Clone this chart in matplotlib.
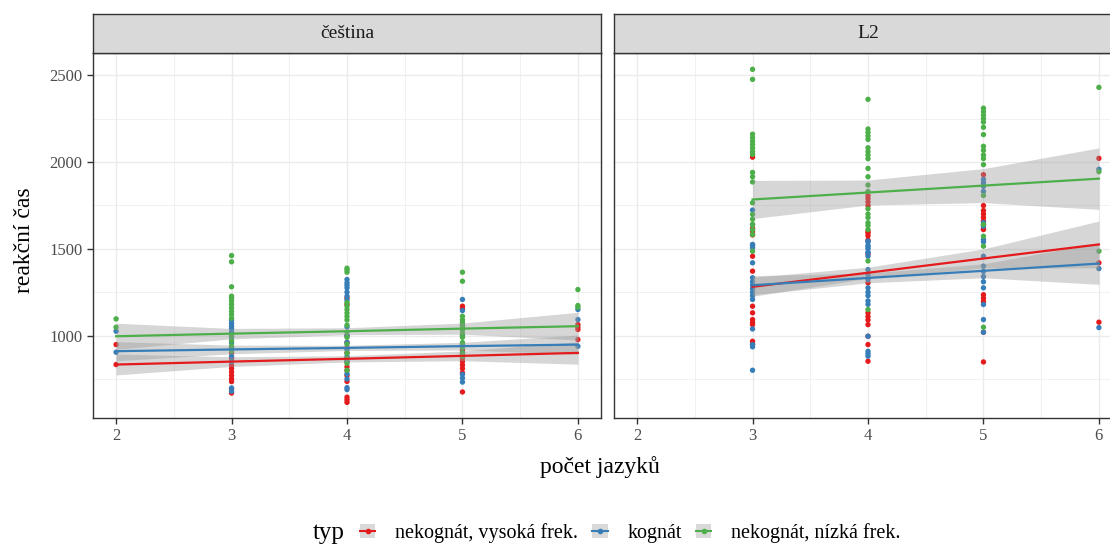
import matplotlib
matplotlib.use("Agg")
import matplotlib.pyplot as plt
import numpy as np
from matplotlib.lines import Line2D
from matplotlib.patches import Patch
from matplotlib.legend_handler import HandlerTuple
from matplotlib.ticker import MultipleLocator

plt.rcParams['font.family'] = ['Liberation Serif', 'DejaVu Serif']

# reaction times per number of languages (x = 2..6), one list per x value
x_levels = [2, 3, 4, 5, 6]

cz_red = [
    [948, 833],
    [900, 870, 830, 810, 790, 770, 750, 735, 692, 669],
    [1217, 1180, 1000, 960, 930, 900, 870, 850, 820, 800, 770, 736, 645, 630, 615],
    [1169, 1155, 917, 890, 870, 850, 830, 810, 785, 675],
    [1063, 1048, 1035, 977],
]
cz_blue = [
    [1025, 904],
    [1088, 1070, 1054, 1040, 1020, 990, 960, 930, 880, 850, 698, 679],
    [1323, 1304, 1290, 1275, 1250, 1227, 1205, 1050, 1000, 960, 920, 880, 850, 780, 750, 700, 689],
    [1208, 1144, 1060, 1000, 950, 900, 776, 755, 732],
    [1150, 1092, 938],
]
cz_green = [
    [1096, 1048],
    [1461, 1425, 1281, 1227, 1215, 1200, 1180, 1160, 1140, 1121, 1100, 1000, 970, 940, 910],
    [1388, 1378, 1365, 1190, 1170, 1150, 1130, 1110, 1090, 1060, 1020, 990, 950, 900, 870, 840, 800],
    [1365, 1313, 1111, 1090, 1073, 1050, 1030, 1010, 990, 960, 930, 900, 880],
    [1265, 1173, 1163],
]

l2_red = [
    [],
    [2028, 1617, 1600, 1580, 1457, 1371, 1169, 1131, 1092, 1075, 1063, 967, 950],
    [1807, 1790, 1770, 1749, 1600, 1590, 1575, 1550, 1470, 1304, 1131, 1110, 1090, 1063, 996, 948, 852],
    [1927, 1749, 1720, 1700, 1680, 1660, 1640, 1614, 1611, 1235, 1215, 1196, 1019, 848],
    [2021, 1419, 1077],
]
l2_blue = [
    [],
    [1723, 1640, 1525, 1519, 1506, 1419, 1333, 1310, 1290, 1270, 1250, 1230, 1208, 1038, 948, 935, 800],
    [1544, 1540, 1520, 1510, 1500, 1480, 1477, 1457, 1380, 1350, 1323, 1275, 1250, 1230, 1200, 1180, 996, 909, 895, 881],
    [1900, 1880, 1860, 1830, 1650, 1630, 1553, 1540, 1457, 1400, 1370, 1340, 1310, 1275, 1179, 1092, 1019],
    [1958, 1386, 1046],
]
l2_green = [
    [],
    [2534, 2476, 2160, 2140, 2120, 2100, 2080, 2060, 2044, 1940, 1915, 1885, 1765, 1698, 1670, 1640, 1610, 1582, 1486],
    [2361, 2190, 2170, 2150, 2130, 2082, 2060, 2040, 2019, 1963, 1915, 1867, 1830, 1730, 1700, 1680, 1650, 1634, 1611, 1430, 1150],
    [2310, 2290, 2270, 2250, 2230, 2200, 2158, 2090, 2067, 2040, 2020, 1985, 1807, 1640, 1572, 1515, 1048],
    [2430, 1944, 1486],
]

# linear fits (value at each x) and confidence half-widths
cz_fit_x = [2, 3, 4, 5, 6]
cz_fit = {
    'red': [833, 850, 866, 883, 900],
    'blue': [910, 920, 929, 939, 948],
    'green': [996, 1011, 1025, 1040, 1054],
}
cz_ci = {
    'red': [60, 28, 18, 28, 65],
    'blue': [55, 25, 15, 22, 55],
    'green': [75, 30, 20, 32, 80],
}
l2_fit_x = [3, 4, 5, 6]
l2_fit = {
    'red': [1281, 1362, 1444, 1525],
    'blue': [1290, 1332, 1373, 1415],
    'green': [1784, 1824, 1864, 1904],
}
l2_ci = {
    'red': [55, 32, 55, 135],
    'blue': [55, 28, 40, 120],
    'green': [110, 72, 98, 177],
}

groups = ['red', 'blue', 'green']
colors = {'red': '#E41A1C', 'blue': '#377EB8', 'green': '#4DAF4A'}
labels = ['nekognát, vysoká frek.', 'kognát', 'nekognát, nízká frek.']

W, H = 1110, 544
fig = plt.figure(figsize=(W / 100, H / 100), dpi=100)

panel_w = 508
panels = [
    ('čeština', 93, [cz_red, cz_blue, cz_green], cz_fit_x, cz_fit, cz_ci),
    ('L2', 614, [l2_red, l2_blue, l2_green], l2_fit_x, l2_fit, l2_ci),
]

for i, (title, left, pts, fx, fit, ci) in enumerate(panels):
    ax = fig.add_axes([left / W, 1 - 418 / H, panel_w / W, 365 / H])
    ax.set_xlim(1.8, 6.2)
    ax.set_ylim(525, 2628)
    ax.xaxis.set_major_locator(MultipleLocator(1))
    ax.xaxis.set_minor_locator(MultipleLocator(0.5))
    ax.yaxis.set_major_locator(MultipleLocator(500))
    ax.yaxis.set_minor_locator(MultipleLocator(250))
    ax.set_yticks([1000, 1500, 2000, 2500])
    ax.grid(which='major', color='#EBEBEB', lw=1.0, zorder=0)
    ax.grid(which='minor', color='#EBEBEB', lw=0.5, zorder=0)
    ax.set_axisbelow(True)
    for s in ax.spines.values():
        s.set_color('#333333')
        s.set_linewidth(1.0)
    ax.tick_params(which='minor', length=0)
    ax.tick_params(which='major', length=4, width=1.0, color='#333333',
                   labelcolor='#4D4D4D', labelsize=12)
    if i > 0:
        ax.tick_params(axis='y', left=False, labelleft=False)

    for g, series in zip(groups, pts):
        xs, ys = [], []
        for xv, vals in zip(x_levels, series):
            xs += [xv] * len(vals)
            ys += vals
        ax.scatter(xs, ys, s=15, color=colors[g], edgecolors='none', zorder=3)

    for g in groups:
        lo = np.array(fit[g]) - np.array(ci[g])
        hi = np.array(fit[g]) + np.array(ci[g])
        ax.fill_between(fx, lo, hi, color='#999999', alpha=0.4, lw=0, zorder=4)
        ax.plot(fx, fit[g], color=colors[g], lw=1.6, zorder=5)

    # facet strip
    sax = fig.add_axes([left / W, 1 - 53 / H, panel_w / W, 39 / H])
    sax.set_facecolor('#D9D9D9')
    sax.set_xticks([])
    sax.set_yticks([])
    for s in sax.spines.values():
        s.set_color('#333333')
        s.set_linewidth(1.0)
    sax.text(0.5, 0.5, title, ha='center', va='center', fontsize=14,
             color='#1A1A1A', transform=sax.transAxes)

fig.text(600 / W, 1 - 467 / H, 'počet jazyků', ha='center', va='center', fontsize=17)
fig.text(25 / W, 1 - 240 / H, 'reakční čas', ha='center', va='center',
         rotation=90, fontsize=17)

# legend
fig.text(313 / W, 1 - 533 / H, 'typ', ha='left', va='center', fontsize=18)
handles = [(Patch(facecolor='#D9D9D9', edgecolor='none'),
            Line2D([], [], color=colors[g], lw=1.5, marker='o', ms=3))
           for g in groups]
fig.legend(handles, labels, loc='center left',
           bbox_to_anchor=(352 / W, 1 - 533 / H), ncol=3, frameon=False,
           fontsize=14.5, handlelength=0.75, handleheight=0.75, handletextpad=1.0,
           columnspacing=0.7, borderaxespad=0,
           handler_map={tuple: HandlerTuple(ndivide=1, pad=0)})

fig.savefig('out.png', dpi=100)
